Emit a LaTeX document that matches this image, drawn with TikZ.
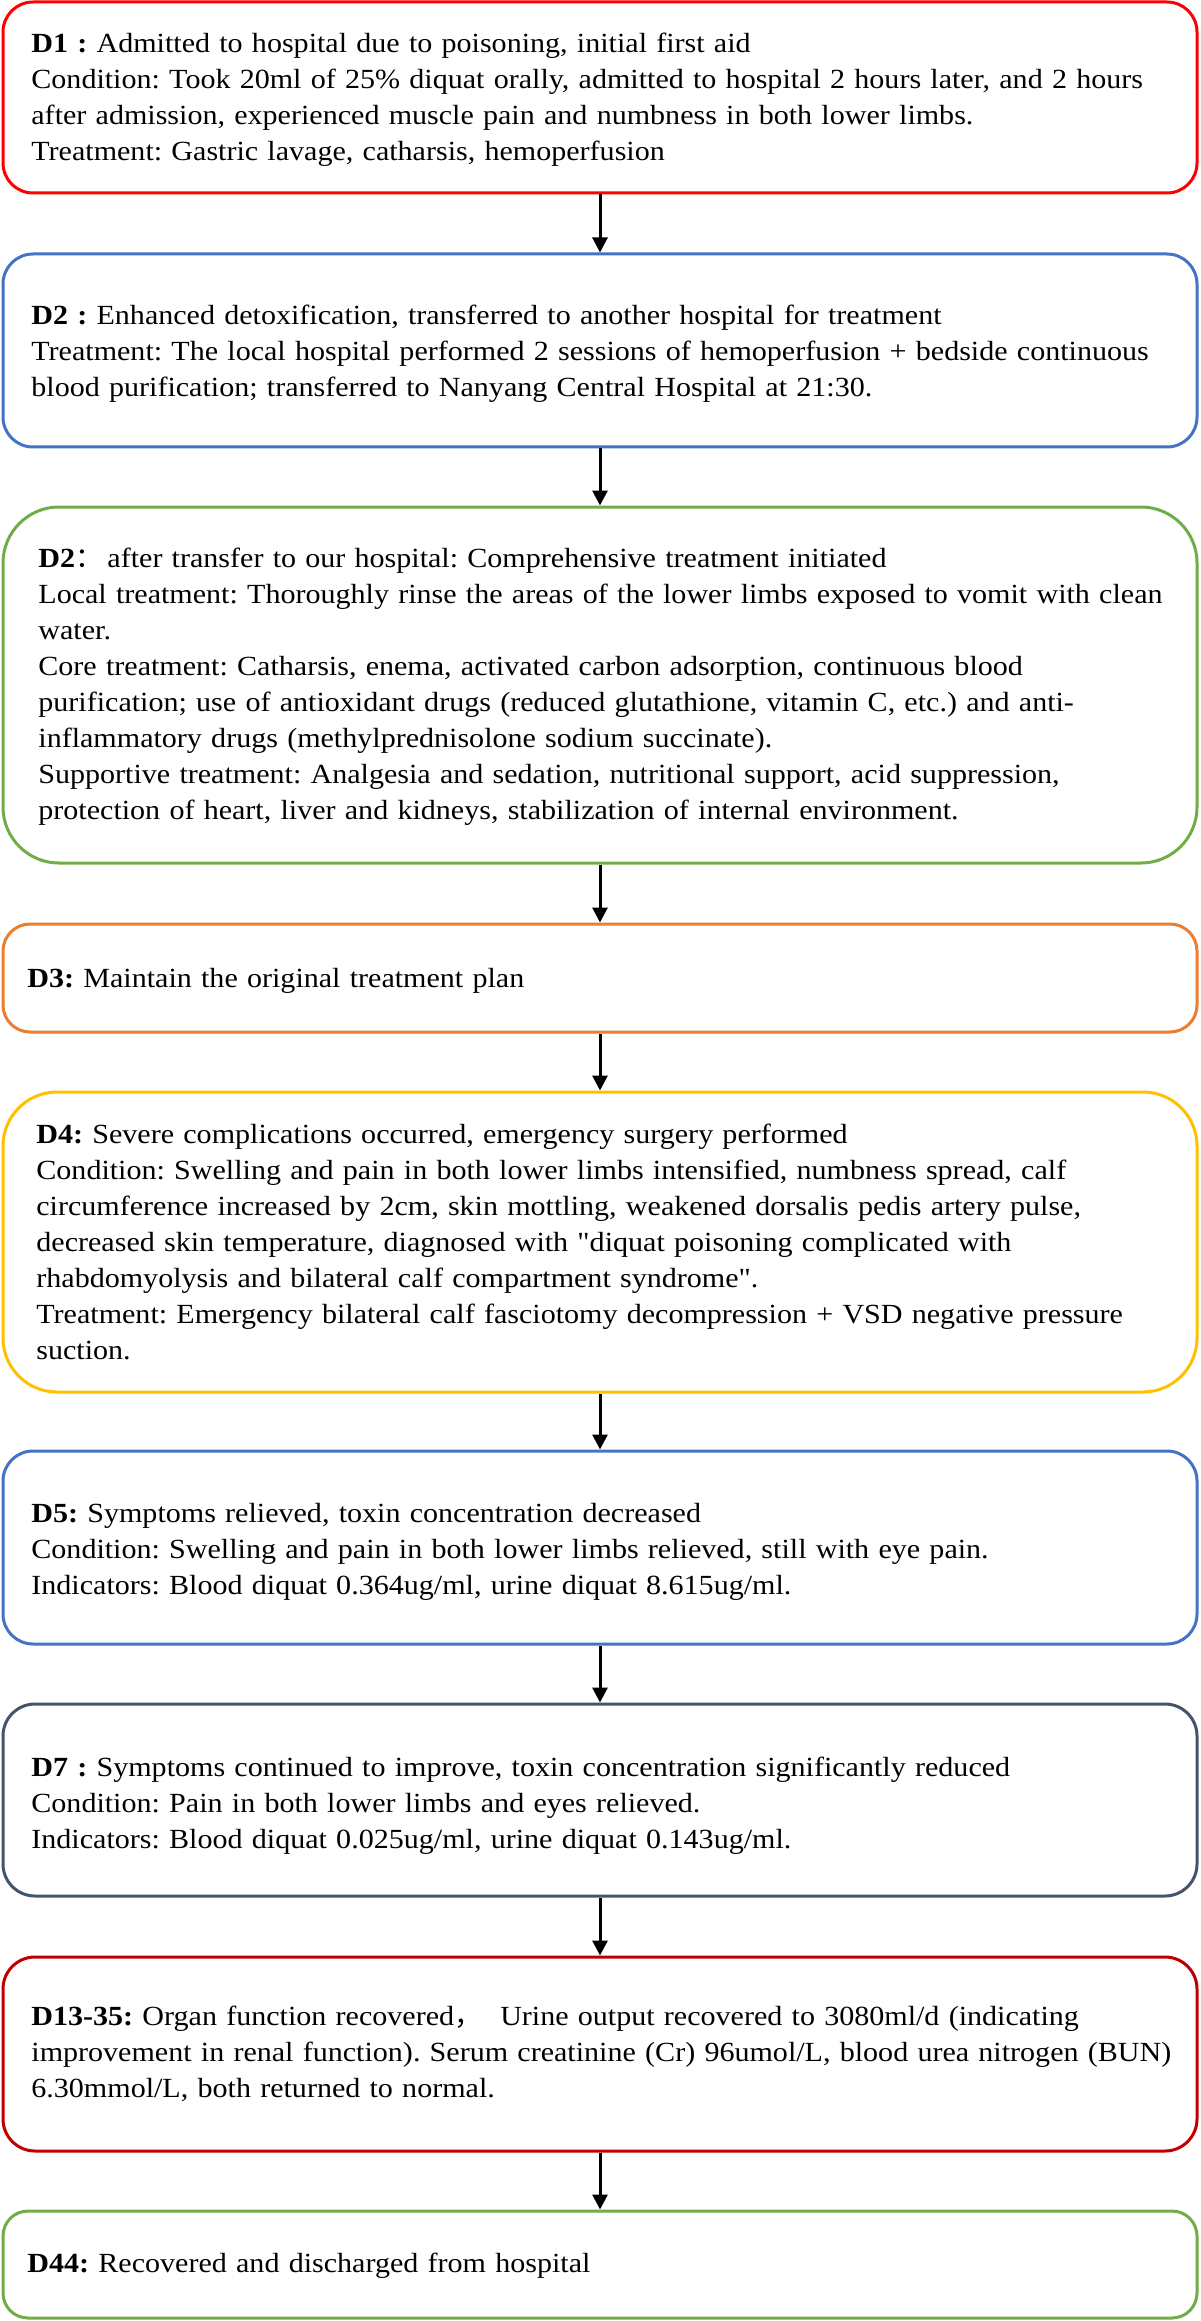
\documentclass[tikz,border=0pt]{standalone}
\usepackage{fontspec}
\setmainfont{Liberation Serif}[Ligatures=TeXOff, FakeStretch=1.085]
\newfontfamily\cjk{Noto Sans CJK SC}
\usetikzlibrary{arrows.meta}
\definecolor{cRed}{HTML}{FF0000}
\definecolor{cBlue}{HTML}{4472C4}
\definecolor{cGreen}{HTML}{70AD47}
\definecolor{cOrange}{HTML}{ED7D31}
\definecolor{cYellow}{HTML}{FFC000}
\definecolor{cSlate}{HTML}{44546A}
\definecolor{cDark}{HTML}{C00000}
\tikzset{
  stagebox/.style={draw=#1, line width=1.5pt, minimum width=597pt, inner sep=0pt},
  txt/.style={anchor=base west, inner sep=0pt, align=left, text width=577pt,
    font=\fontsize{13.85pt}{18pt}\selectfont\frenchspacing},
  link/.style={draw=black, line width=1.5pt, -{Triangle[length=7.5pt,width=7.5pt]}}
}
\begin{document}
\begin{tikzpicture}[x=0.5pt,y=-0.5pt]
\useasboundingbox (0,0) rectangle (1200,2321);
% boxes
\node[stagebox=cRed, rounded corners=15pt, minimum height=95.5pt] (b1) at (600,97.5) {};
\node[stagebox=cBlue, rounded corners=15pt, minimum height=96.5pt] (b2) at (600,350.5) {};
\node[stagebox=cGreen, rounded corners=28pt, minimum height=178pt] (b3) at (600,685) {};
\node[stagebox=cOrange, rounded corners=13.5pt, minimum height=54pt] (b4) at (600,978) {};
\node[stagebox=cYellow, rounded corners=27pt, minimum height=150pt] (b5) at (600,1242) {};
\node[stagebox=cBlue, rounded corners=15pt, minimum height=96.5pt] (b6) at (600,1547.5) {};
\node[stagebox=cSlate, rounded corners=16pt, minimum height=96pt] (b7) at (600,1800) {};
\node[stagebox=cDark, rounded corners=16pt, minimum height=97pt] (b8) at (600,2054) {};
\node[stagebox=cGreen, rounded corners=12.5pt, minimum height=53.5pt] (b9) at (600,2264.5) {};
% texts
\node[txt] (t1) at (31,53) {\textbf{D1 :} Admitted to hospital due to poisoning, initial first aid\\
Condition: Took 20ml of 25\% diquat orally, admitted to hospital 2 hours later, and 2 hours\\
after admission, experienced muscle pain and numbness in both lower limbs.\\
Treatment: Gastric lavage, catharsis, hemoperfusion};
\node[txt] (t2) at (31,325) {\textbf{D2 :} Enhanced detoxification, transferred to another hospital for treatment\\
Treatment: The local hospital performed 2 sessions of hemoperfusion + bedside continuous\\
blood purification; transferred to Nanyang Central Hospital at 21:30.};
\node[txt] (t3) at (38,567) {\textbf{D2}{\cjk ：}\,after transfer to our hospital: Comprehensive treatment initiated\\
Local treatment: Thoroughly rinse the areas of the lower limbs exposed to vomit with clean\\
water.\\
Core treatment: Catharsis, enema, activated carbon adsorption, continuous blood\\
purification; use of antioxidant drugs (reduced glutathione, vitamin C, etc.) and anti-\\
inflammatory drugs (methylprednisolone sodium succinate).\\
Supportive treatment: Analgesia and sedation, nutritional support, acid suppression,\\
protection of heart, liver and kidneys, stabilization of internal environment.};
\node[txt] (t4) at (27,987) {\textbf{D3:} Maintain the original treatment plan};
\node[txt] (t5) at (36,1143) {\textbf{D4:} Severe complications occurred, emergency surgery performed\\
Condition: Swelling and pain in both lower limbs intensified, numbness spread, calf\\
circumference increased by 2cm, skin mottling, weakened dorsalis pedis artery pulse,\\
decreased skin temperature, diagnosed with "diquat poisoning complicated with\\
rhabdomyolysis and bilateral calf compartment syndrome".\\
Treatment: Emergency bilateral calf fasciotomy decompression + VSD negative pressure\\
suction.};
\node[txt] (t6) at (31,1522) {\textbf{D5:} Symptoms relieved, toxin concentration decreased\\
Condition: Swelling and pain in both lower limbs relieved, still with eye pain.\\
Indicators: Blood diquat 0.364ug/ml, urine diquat 8.615ug/ml.};
\node[txt] (t7) at (31,1776) {\textbf{D7 :} Symptoms continued to improve, toxin concentration significantly reduced\\
Condition: Pain in both lower limbs and eyes relieved.\\
Indicators: Blood diquat 0.025ug/ml, urine diquat 0.143ug/ml.};
\node[txt] (t8) at (31,2025) {\textbf{D13-35:} Organ function recovered{\cjk ，}\ \ Urine output recovered to 3080ml/d (indicating\\
improvement in renal function). Serum creatinine (Cr) 96umol/L, blood urea nitrogen (BUN)\\
6.30mmol/L, both returned to normal.};
\node[txt] (t9) at (27,2272) {\textbf{D44:} Recovered and discharged from hospital};
% connectors
\draw[link] (b1) -- (b2);
\draw[link] (b2) -- (b3);
\draw[link] (b3) -- (b4);
\draw[link] (b4) -- (b5);
\draw[link] (b5) -- (b6);
\draw[link] (b6) -- (b7);
\draw[link] (b7) -- (b8);
\draw[link] (b8) -- (b9);
\end{tikzpicture}
\end{document}
